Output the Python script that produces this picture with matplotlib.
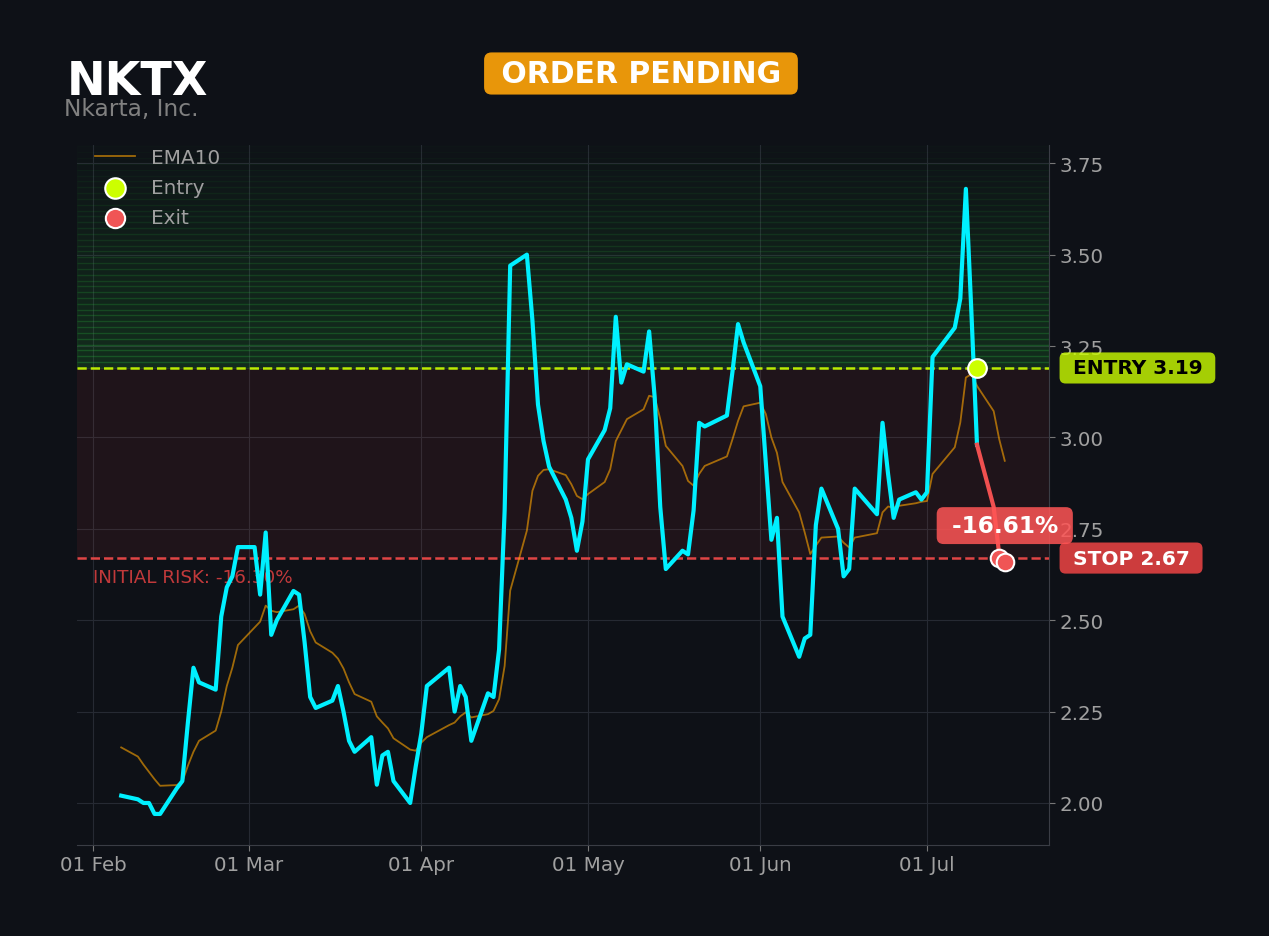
import matplotlib
matplotlib.use("Agg")
import matplotlib.pyplot as plt
import matplotlib.dates as mdates
import matplotlib.transforms as mtransforms
import pandas as pd

# === DATOS ===
TICKER = "NKTX"
NOMBRE = "Nkarta, Inc."
ESTADO = "ORDER PENDING"

fechas = [
    "2026-02-06", "2026-02-09", "2026-02-10", "2026-02-11", "2026-02-12", "2026-02-13",
    "2026-02-16", "2026-02-17", "2026-02-18", "2026-02-19", "2026-02-20",
    "2026-02-23", "2026-02-24", "2026-02-25", "2026-02-26", "2026-02-27",
    "2026-03-02", "2026-03-03", "2026-03-04", "2026-03-05", "2026-03-06",
    "2026-03-09", "2026-03-10", "2026-03-11", "2026-03-12", "2026-03-13",
    "2026-03-16", "2026-03-17", "2026-03-18", "2026-03-19", "2026-03-20",
    "2026-03-23", "2026-03-24", "2026-03-25", "2026-03-26", "2026-03-27",
    "2026-03-30", "2026-03-31", "2026-04-01", "2026-04-02",
    "2026-04-06", "2026-04-07", "2026-04-08", "2026-04-09", "2026-04-10",
    "2026-04-13", "2026-04-14", "2026-04-15", "2026-04-16", "2026-04-17",
    "2026-04-20", "2026-04-21", "2026-04-22", "2026-04-23", "2026-04-24",
    "2026-04-27", "2026-04-28", "2026-04-29", "2026-04-30", "2026-05-01",
    "2026-05-04", "2026-05-05", "2026-05-06", "2026-05-07", "2026-05-08",
    "2026-05-11", "2026-05-12", "2026-05-13", "2026-05-14", "2026-05-15",
    "2026-05-18", "2026-05-19", "2026-05-20", "2026-05-21", "2026-05-22",
    "2026-05-26", "2026-05-27", "2026-05-28", "2026-05-29",
    "2026-06-01", "2026-06-02", "2026-06-03", "2026-06-04", "2026-06-05",
    "2026-06-08", "2026-06-09", "2026-06-10", "2026-06-11", "2026-06-12",
    "2026-06-15", "2026-06-16", "2026-06-17", "2026-06-18",
    "2026-06-22", "2026-06-23", "2026-06-24", "2026-06-25", "2026-06-26",
    "2026-06-29", "2026-06-30", "2026-07-01", "2026-07-02",
    "2026-07-06", "2026-07-07", "2026-07-08", "2026-07-09", "2026-07-10",
    "2026-07-13", "2026-07-14", "2026-07-15",
]

cierre = [
    2.02, 2.01, 2.00, 2.00, 1.97, 1.97,
    2.04, 2.06, 2.22, 2.37, 2.33,
    2.31, 2.51, 2.59, 2.62, 2.70,
    2.70, 2.57, 2.74, 2.46, 2.50,
    2.58, 2.57, 2.44, 2.29, 2.26,
    2.28, 2.32, 2.25, 2.17, 2.14,
    2.18, 2.05, 2.13, 2.14, 2.06,
    2.00, 2.10, 2.19, 2.32,
    2.37, 2.25, 2.32, 2.29, 2.17,
    2.30, 2.29, 2.42, 2.80, 3.47,
    3.50, 3.32, 3.09, 2.99, 2.92,
    2.83, 2.78, 2.69, 2.77, 2.94,
    3.02, 3.08, 3.33, 3.15, 3.20,
    3.18, 3.29, 3.11, 2.81, 2.64,
    2.69, 2.68, 2.80, 3.04, 3.03,
    3.06, 3.18, 3.31, 3.26,
    3.14, 2.93, 2.72, 2.78, 2.51,
    2.40, 2.45, 2.46, 2.76, 2.86,
    2.75, 2.62, 2.64, 2.86,
    2.79, 3.04, 2.90, 2.78, 2.83,
    2.85, 2.83, 2.85, 3.22,
    3.30, 3.38, 3.68, 3.34, 2.98,
    2.81, 2.68, 2.67,
]

ema10 = [
    2.152, 2.127, 2.105, 2.085, 2.065, 2.047,
    2.049, 2.058, 2.102, 2.140, 2.170,
    2.198, 2.250, 2.320, 2.370, 2.432,
    2.480, 2.496, 2.540, 2.526, 2.522,
    2.530, 2.540, 2.517, 2.470, 2.439,
    2.411, 2.395, 2.368, 2.330, 2.298,
    2.277, 2.237, 2.220, 2.204, 2.177,
    2.146, 2.143, 2.165, 2.180,
    2.213, 2.220, 2.237, 2.248, 2.234,
    2.243, 2.252, 2.284, 2.375, 2.581,
    2.745, 2.854, 2.895, 2.911, 2.913,
    2.897, 2.872, 2.840, 2.831, 2.845,
    2.878, 2.913, 2.990, 3.020, 3.050,
    3.077, 3.114, 3.110, 3.050, 2.977,
    2.922, 2.881, 2.868, 2.900, 2.922,
    2.948, 2.995, 3.045, 3.085,
    3.095, 3.064, 3.000, 2.958, 2.878,
    2.795, 2.740, 2.681, 2.704, 2.726,
    2.729, 2.712, 2.699, 2.726,
    2.738, 2.795, 2.811, 2.808, 2.813,
    2.820, 2.824, 2.826, 2.900,
    2.973, 3.041, 3.164, 3.173, 3.141,
    3.072, 2.995, 2.936,
]

entrada_fecha = "2026-07-10"
entrada = 3.19
stop = 2.67
salidas_fecha = ["2026-07-14", "2026-07-15"]
salidas = [2.67, 2.66]

# === COLORES ===
FONDO = "#0e1117"
CIAN = "#00f0ff"
LIMA = "#ccff00"
ROJO = "#ef4444"
GRIS = "#a0a0a0"

df = pd.DataFrame({"fecha": pd.to_datetime(fechas), "cierre": cierre, "ema": ema10})
f_ent = pd.Timestamp(entrada_fecha)
f_sal = pd.to_datetime(salidas_fecha)

antes = df[df.fecha <= f_ent]
trade = df[(df.fecha >= f_ent) & (df.fecha <= f_sal[0])]

pct_riesgo = (stop - entrada) / entrada * 100
pct_final = (salidas[-1] - entrada) / entrada * 100

fig = plt.figure(figsize=(12.69, 9.37), dpi=100, facecolor=FONDO)
ax = fig.add_axes([0.0607, 0.0971, 0.7659, 0.7471], facecolor=FONDO)

# zona de beneficio: degradado verde por bandas
n_bandas = 40
tope = entrada * 1.2
paso = (tope - entrada) / n_bandas
for i in range(n_bandas):
    ax.axhspan(entrada + i * paso, entrada + (i + 1) * paso,
               color="#2ecc40", alpha=0.15 * (1 - i / n_bandas), lw=1.0, zorder=1)

# zona de riesgo
ax.axhspan(stop, entrada, color=ROJO, alpha=0.08, lw=0, zorder=1)

ax.axhline(entrada, color=LIMA, ls="--", lw=1.8, alpha=0.9, zorder=3)
ax.axhline(stop, color="#e04545", ls="--", lw=1.8, zorder=3)

ax.plot(df.fecha, df.ema, color="#ffa500", alpha=0.6, lw=1.3, label="EMA10", zorder=4)
ax.plot(antes.fecha, antes.cierre, color=CIAN, lw=3, zorder=5)
ax.plot(trade.fecha, trade.cierre, color="#f05050", lw=3, zorder=5)

ax.scatter([f_ent], [entrada], s=180, color=LIMA, edgecolor="white", lw=1.5,
           zorder=7, label="Entry")
ax.scatter(f_sal, salidas, s=160, color="#f05555", edgecolor="white", lw=1.5,
           zorder=7, label="Exit")

ax.set_ylim(1.885, 3.80)

# ejes
ax.yaxis.tick_right()
ax.yaxis.set_major_locator(plt.MultipleLocator(0.25))
ax.yaxis.set_major_formatter(plt.FormatStrFormatter("%.2f"))
ax.xaxis.set_major_locator(mdates.MonthLocator())
ax.xaxis.set_major_formatter(mdates.DateFormatter("%d %b"))
ax.tick_params(colors="#777777", labelcolor=GRIS, labelsize=14.3, length=4)
ax.grid(True, color="#262a33", lw=0.8, zorder=0)
ax.set_axisbelow(True)
for lado in ["top", "left"]:
    ax.spines[lado].set_visible(False)
for lado in ["bottom", "right"]:
    ax.spines[lado].set_color("#3a3d45")

leg = ax.legend(loc="upper left", bbox_to_anchor=(0.0, 1.021), frameon=False,
                fontsize=14.4, labelspacing=0.55, markerscale=1.1)
for t in leg.get_texts():
    t.set_color(GRIS)

# etiquetas a la derecha
trans = mtransforms.blended_transform_factory(ax.transAxes, ax.transData)
ax.annotate(f" ENTRY {entrada:.2f} ", xy=(1, entrada), xycoords=trans,
            xytext=(12, 0), textcoords="offset points", ha="left", va="center",
            fontsize=14.5, fontweight="bold", color="black", annotation_clip=False,
            bbox=dict(boxstyle="round,pad=0.3", fc=LIMA, ec="none", alpha=0.8))
ax.annotate(f" STOP {stop:.2f} ", xy=(1, stop), xycoords=trans,
            xytext=(12, 0), textcoords="offset points", ha="left", va="center",
            fontsize=14.5, fontweight="bold", color="white", annotation_clip=False,
            bbox=dict(boxstyle="round,pad=0.3", fc=ROJO, ec="none", alpha=0.85))
ax.annotate(f" {pct_final:.2f}% ", xy=(f_sal[-1], salidas[-1]),
            xytext=(0, 26), textcoords="offset points", ha="center", va="center",
            fontsize=16.7, fontweight="bold", color="white", zorder=8,
            annotation_clip=False,
            bbox=dict(boxstyle="round,pad=0.3", fc="#ff5555", ec="none", alpha=0.85))
ax.annotate(f"INITIAL RISK: {pct_riesgo:.2f}%", xy=(0.016, stop), xycoords=trans,
            xytext=(0, -7), textcoords="offset points", ha="left", va="top",
            fontsize=13.2, color=ROJO, alpha=0.8)

# cabecera
fig.text(0.0525, 0.8986, TICKER, fontsize=33.2, fontweight="bold", color="white",
         va="baseline")
fig.text(0.0505, 0.8762, NOMBRE, fontsize=16.8, color="#808080", va="baseline")
fig.text(0.5051, 0.9205, f" {ESTADO} ", fontsize=21.5, fontweight="bold", color="white",
         ha="center", va="center",
         bbox=dict(boxstyle="round,pad=0.22,rounding_size=0.25", fc="#e8960a", ec="none"))

fig.savefig("out.png", dpi=100, facecolor=FONDO)
